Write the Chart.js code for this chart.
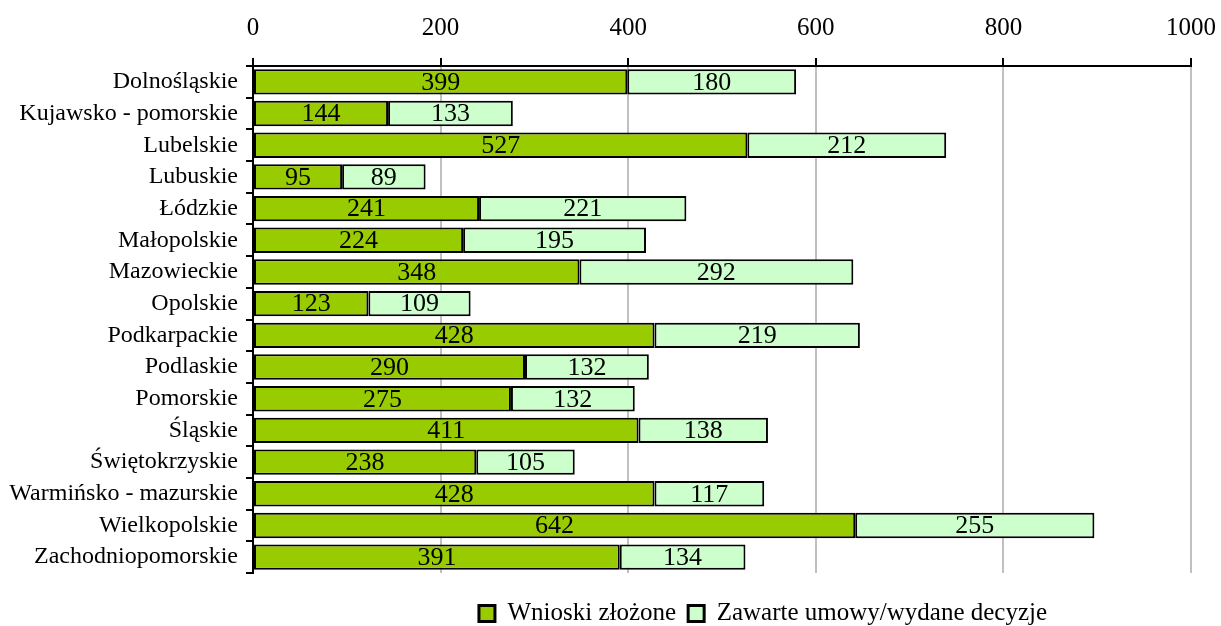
<!DOCTYPE html>
<html>
<head>
<meta charset="utf-8">
<script src="https://cdn.jsdelivr.net/npm/chart.js@4"></script>
<style>
	html, body { margin: 0; padding: 0; background: #fff; }
	#wrap { width: 1221px; height: 626px; }
</style>
</head>
<body>
<div id="wrap"><canvas id="regionChart" width="1221" height="626"></canvas></div>
<script>
var REGIONS = ['Dolnośląskie', 'Kujawsko - pomorskie', 'Lubelskie', 'Lubuskie', 'Łódzkie',
	'Małopolskie', 'Mazowieckie', 'Opolskie', 'Podkarpackie', 'Podlaskie', 'Pomorskie',
	'Śląskie', 'Świętokrzyskie', 'Warmińsko - mazurskie', 'Wielkopolskie', 'Zachodniopomorskie'];
var wnioskiZlozone = [399, 144, 527, 95, 241, 224, 348, 123, 428, 290, 275, 411, 238, 428, 642, 391];
var zawarteUmowy = [180, 133, 212, 89, 221, 195, 292, 109, 219, 132, 132, 138, 105, 117, 255, 134];
var X_TICKS = [0, 200, 400, 600, 800, 1000];

var SERIF = '"Liberation Serif", "Times New Roman", serif';
var COLORS = {
	green: '#99cc00',
	lightgreen: '#ccffcc',
	grid: '#c0c0c0'
};

// draws the value in the middle of every bar segment
var barValues = {
	id: 'barValues',
	afterDatasetsDraw: function (chart) {
		var ctx = chart.ctx;
		ctx.save();
		ctx.font = '26px ' + SERIF;
		ctx.fillStyle = '#000';
		ctx.textAlign = 'center';
		ctx.textBaseline = 'middle';
		chart.data.datasets.forEach(function (ds, i) {
			chart.getDatasetMeta(i).data.forEach(function (bar, j) {
				var p = bar.getCenterPoint();
				ctx.fillText(String(ds.data[j]), p.x, p.y + 1);
			});
		});
		ctx.restore();
	}
};

// legend in the original sits a bit right of the plot centre and lower
var legendShift = {
	id: 'legendShift',
	afterLayout: function (chart) {
		var lg = chart.legend;
		lg.left += 41;
		lg.right += 41;
		lg.top += 16;
		lg.bottom += 16;
	}
};

var regionData = {
	labels: REGIONS,
	datasets: [{
		label: 'Wnioski złożone',
		data: wnioskiZlozone,
		backgroundColor: COLORS.green,
		borderColor: '#000',
		borderWidth: 2,
		borderSkipped: false,
		barPercentage: 0.8,
		categoryPercentage: 1
	}, {
		label: 'Zawarte umowy/wydane decyzje',
		data: zawarteUmowy,
		backgroundColor: COLORS.lightgreen,
		borderColor: '#000',
		borderWidth: 2,
		borderSkipped: false,
		barPercentage: 0.8,
		categoryPercentage: 1
	}]
};

var regionOptions = {
	indexAxis: 'y',
	responsive: false,
	animation: false,
	layout: {
		padding: { top: 0, right: 0, bottom: 6, left: 0 }
	},
	scales: {
		x: {
			position: 'top',
			stacked: true,
			min: 0,
			max: 1000,
			afterBuildTicks: function (scale) {
				scale.ticks = X_TICKS.map(function (v) { return { value: v }; });
			},
			afterFit: function (scale) {
				scale.paddingRight = 30;
				scale.height -= 2;
			},
			grid: {
				color: COLORS.grid,
				lineWidth: 2,
				tickColor: '#000',
				tickLength: 8
			},
			border: { color: '#000', width: 2 },
			ticks: {
				color: '#000',
				font: { family: SERIF, size: 25 },
				padding: 15,
				maxRotation: 0,
				callback: function (value) {
					return String(value);
				}
			}
		},
		y: {
			stacked: true,
			afterFit: function (scale) {
				scale.width = 253;
				scale.paddingTop = 0;
				scale.paddingBottom = 0;
			},
			grid: {
				drawOnChartArea: false,
				color: '#000',
				tickColor: '#000',
				lineWidth: 2,
				tickLength: 7
			},
			border: { color: '#000', width: 2 },
			ticks: {
				color: '#000',
				font: { family: SERIF, size: 24 },
				padding: 8,
				autoSkip: false
			}
		}
	},
	plugins: {
		legend: {
			display: true,
			position: 'bottom',
			fullSize: false,
			labels: {
				color: '#000',
				font: { family: SERIF, size: 25 },
				boxWidth: 16,
				boxHeight: 16,
				padding: 12,
				generateLabels: function (chart) {
					var items = Chart.defaults.plugins.legend.labels.generateLabels(chart);
					items.forEach(function (it) { it.lineWidth = 3; });
					return items;
				}
			}
		},
		tooltip: { enabled: false }
	}
};

var regionChart = new Chart(document.getElementById('regionChart'), {
	type: 'bar',
	data: regionData,
	options: regionOptions,
	plugins: [barValues, legendShift]
});
</script>
</body>
</html>
